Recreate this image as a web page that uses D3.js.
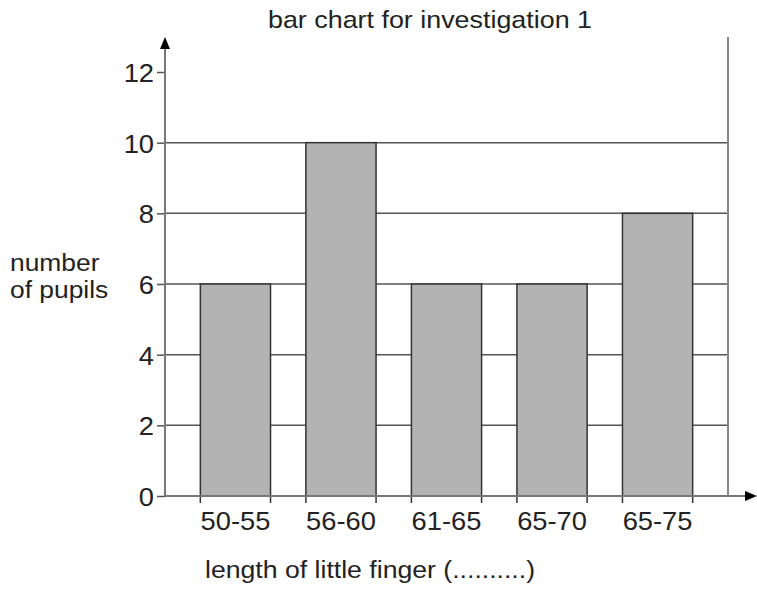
<!DOCTYPE html>
<html>
<head>
<meta charset="utf-8">
<script src="https://cdn.jsdelivr.net/npm/d3@7"></script>
<style>
body { margin: 0; background: #fff; }
text { font-family: "Liberation Sans", Arial, sans-serif; fill: #222; }
</style>
</head>
<body>
<svg id="chart" width="757" height="590"></svg>
<script>
// values
var categories = ["50-55", "56-60", "61-65", "65-70", "65-75"];
var pupils = [6, 10, 6, 6, 8];
var yTicks = [0, 2, 4, 6, 8, 10, 12];
var gridTicks = [2, 4, 6, 8, 10];

var svg = d3.select("#chart");

var x = d3.scaleBand().domain(categories).range([165, 728]).padding(0.335);
var y = d3.scaleLinear().domain([0, 12]).range([496, 72]);

// text in the picture is a bit wide, so stretch it sideways
function label(px, py, str, size, anchor, sx) {
  return svg.append("text")
    .attr("transform", "translate(" + px + "," + py + ") scale(" + sx + ",1)")
    .attr("text-anchor", anchor)
    .style("font-size", size + "px")
    .text(str);
}

// grid lines (behind bars)
svg.append("g").selectAll("line")
  .data(gridTicks)
  .join("line")
  .attr("x1", 165).attr("x2", 728)
  .attr("y1", d => y(d)).attr("y2", d => y(d))
  .attr("stroke", "#555").attr("stroke-width", 1.5);

// right frame line
svg.append("line")
  .attr("x1", 728).attr("x2", 728)
  .attr("y1", 37).attr("y2", y(0))
  .attr("stroke", "#888").attr("stroke-width", 2);

// bars
svg.append("g").selectAll("rect")
  .data(pupils)
  .join("rect")
  .attr("x", (d, i) => x(categories[i]))
  .attr("y", d => y(d))
  .attr("width", x.bandwidth())
  .attr("height", d => y(0) - y(d))
  .attr("fill", "#b3b3b3")
  .attr("stroke", "#333").attr("stroke-width", 1.5);

// small ticks under the bar edges
var edges = [];
categories.forEach(c => { edges.push(x(c)); edges.push(x(c) + x.bandwidth()); });
svg.append("g").selectAll("line")
  .data(edges)
  .join("line")
  .attr("x1", d => d).attr("x2", d => d)
  .attr("y1", y(0)).attr("y2", y(0) + 7)
  .attr("stroke", "#333").attr("stroke-width", 1.5);

// y axis
var yAxis = svg.append("g")
  .attr("transform", "translate(165,0)")
  .call(d3.axisLeft(y).tickValues(yTicks).tickSize(8).tickFormat(""));
yAxis.select(".domain").remove();
yAxis.selectAll("line").attr("stroke", "#555").attr("stroke-width", 1.5);
yTicks.forEach(t => label(154, y(t) + 10, t, 26, "end", 1.05));

svg.append("line")
  .attr("x1", 165).attr("x2", 165)
  .attr("y1", y(0)).attr("y2", 46)
  .attr("stroke", "#777").attr("stroke-width", 2);
svg.append("path")
  .attr("d", "M165,37 L160,49 L170,49 Z")
  .attr("fill", "#000");

// x axis
svg.append("line")
  .attr("x1", 165).attr("x2", 748)
  .attr("y1", y(0)).attr("y2", y(0))
  .attr("stroke", "#777").attr("stroke-width", 2);
svg.append("path")
  .attr("d", "M757," + y(0) + " L745," + (y(0) - 5) + " L745," + (y(0) + 5) + " Z")
  .attr("fill", "#000");

categories.forEach(c => label(x(c) + x.bandwidth() / 2, 530, c, 26, "middle", 1.05));

// titles
label(430, 28, "bar chart for investigation 1", 24, "middle", 1.12);
label(10, 271, "number", 24, "start", 1.1);
label(10, 298, "of pupils", 24, "start", 1.1);
label(205, 578, "length of little finger (..........)", 24, "start", 1.11);
</script>
</body>
</html>
